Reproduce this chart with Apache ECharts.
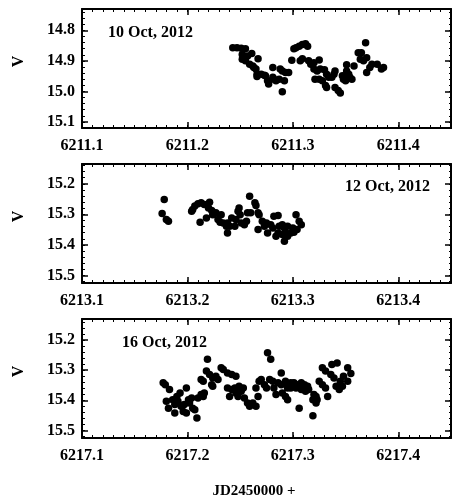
<!DOCTYPE html>
<html><head><meta charset="utf-8">
<script src="https://cdn.jsdelivr.net/npm/echarts@6/dist/echarts.min.js"></script>
<style>html,body{margin:0;padding:0;background:#fff}#c{width:454px;height:498px}</style>
</head><body><div id="c"></div><script>
// ---- data: [JD - 2450000, V magnitude] ----
const p1 = [[6211.243,14.857],[6211.247,14.857],[6211.251,14.859],[6211.255,14.860],[6211.252,14.879],[6211.257,14.884],[6211.261,14.876],[6211.252,14.895],[6211.255,14.900],[6211.259,14.911],[6211.262,14.917],[6211.263,14.922],[6211.265,14.927],[6211.267,14.893],[6211.266,14.944],[6211.266,14.951],[6211.270,14.944],[6211.273,14.947],[6211.274,14.949],[6211.276,14.965],[6211.277,14.976],[6211.281,14.922],[6211.281,14.954],[6211.282,14.960],[6211.284,14.965],[6211.287,14.960],[6211.288,14.927],[6211.290,14.933],[6211.292,14.965],[6211.290,15.001],[6211.293,14.938],[6211.296,14.938],[6211.299,14.898],[6211.301,14.860],[6211.303,14.857],[6211.306,14.852],[6211.309,14.846],[6211.312,14.844],[6211.314,14.852],[6211.307,14.900],[6211.309,14.893],[6211.315,14.900],[6211.317,14.911],[6211.320,14.906],[6211.325,14.897],[6211.320,14.927],[6211.323,14.933],[6211.326,14.927],[6211.321,14.960],[6211.325,14.960],[6211.328,14.965],[6211.330,14.929],[6211.332,14.944],[6211.334,14.954],[6211.331,14.981],[6211.332,14.987],[6211.337,14.954],[6211.339,14.944],[6211.340,14.933],[6211.340,14.987],[6211.343,14.997],[6211.345,15.005],[6211.347,14.949],[6211.348,14.960],[6211.350,14.965],[6211.351,14.933],[6211.353,14.944],[6211.354,14.954],[6211.356,14.960],[6211.351,14.913],[6211.358,14.917],[6211.362,14.873],[6211.365,14.873],[6211.369,14.841],[6211.364,14.895],[6211.367,14.900],[6211.370,14.890],[6211.370,14.938],[6211.373,14.922],[6211.375,14.911],[6211.380,14.911],[6211.384,14.927],[6211.386,14.922]];
const p2 = [[6213.178,15.251],[6213.176,15.297],[6213.180,15.317],[6213.182,15.323],[6213.204,15.290],[6213.205,15.284],[6213.207,15.273],[6213.210,15.265],[6213.213,15.262],[6213.216,15.268],[6213.221,15.260],[6213.220,15.279],[6213.223,15.287],[6213.224,15.301],[6213.227,15.295],[6213.232,15.301],[6213.229,15.317],[6213.231,15.326],[6213.234,15.328],[6213.237,15.339],[6213.238,15.361],[6213.212,15.326],[6213.218,15.312],[6213.238,15.328],[6213.240,15.339],[6213.242,15.312],[6213.245,15.339],[6213.246,15.317],[6213.248,15.290],[6213.249,15.279],[6213.250,15.301],[6213.251,15.328],[6213.254,15.334],[6213.256,15.323],[6213.257,15.295],[6213.259,15.241],[6213.260,15.295],[6213.264,15.262],[6213.265,15.271],[6213.267,15.295],[6213.268,15.301],[6213.267,15.350],[6213.271,15.323],[6213.275,15.328],[6213.273,15.339],[6213.276,15.361],[6213.279,15.334],[6213.281,15.345],[6213.282,15.306],[6213.286,15.304],[6213.284,15.372],[6213.286,15.361],[6213.287,15.339],[6213.290,15.334],[6213.290,15.366],[6213.292,15.345],[6213.292,15.388],[6213.293,15.361],[6213.295,15.339],[6213.295,15.372],[6213.298,15.361],[6213.300,15.345],[6213.301,15.359],[6213.303,15.301],[6213.304,15.350],[6213.306,15.323],[6213.308,15.334]];
const p3 = [[6217.177,15.342],[6217.179,15.348],[6217.183,15.364],[6217.199,15.359],[6217.193,15.376],[6217.190,15.387],[6217.186,15.398],[6217.191,15.403],[6217.188,15.414],[6217.180,15.403],[6217.182,15.426],[6217.194,15.420],[6217.197,15.414],[6217.201,15.398],[6217.204,15.392],[6217.202,15.409],[6217.205,15.426],[6217.196,15.437],[6217.188,15.442],[6217.199,15.442],[6217.207,15.431],[6217.209,15.459],[6217.213,15.381],[6217.216,15.376],[6217.215,15.387],[6217.210,15.392],[6217.213,15.331],[6217.215,15.337],[6217.218,15.303],[6217.221,15.314],[6217.224,15.326],[6217.219,15.264],[6217.232,15.292],[6217.234,15.298],[6217.238,15.309],[6217.242,15.314],[6217.246,15.320],[6217.227,15.320],[6217.229,15.331],[6217.223,15.348],[6217.224,15.353],[6217.238,15.359],[6217.242,15.364],[6217.245,15.359],[6217.249,15.353],[6217.253,15.359],[6217.251,15.370],[6217.246,15.376],[6217.240,15.387],[6217.248,15.387],[6217.254,15.392],[6217.257,15.409],[6217.259,15.420],[6217.262,15.409],[6217.265,15.420],[6217.267,15.387],[6217.265,15.359],[6217.276,15.242],[6217.279,15.264],[6217.289,15.309],[6217.270,15.331],[6217.268,15.337],[6217.273,15.348],[6217.275,15.359],[6217.278,15.331],[6217.281,15.337],[6217.282,15.359],[6217.284,15.381],[6217.286,15.342],[6217.289,15.348],[6217.293,15.337],[6217.295,15.348],[6217.298,15.342],[6217.301,15.342],[6217.304,15.348],[6217.308,15.342],[6217.311,15.348],[6217.314,15.353],[6217.315,15.364],[6217.312,15.370],[6217.308,15.364],[6217.303,15.359],[6217.298,15.359],[6217.295,15.359],[6217.290,15.376],[6217.293,15.387],[6217.295,15.398],[6217.306,15.426],[6217.320,15.381],[6217.322,15.387],[6217.323,15.398],[6217.319,15.398],[6217.322,15.409],[6217.319,15.451],[6217.328,15.292],[6217.331,15.303],[6217.337,15.281],[6217.342,15.276],[6217.352,15.292],[6217.355,15.311],[6217.348,15.320],[6217.345,15.337],[6217.339,15.326],[6217.336,15.314],[6217.325,15.337],[6217.328,15.348],[6217.331,15.359],[6217.341,15.353],[6217.344,15.364],[6217.347,15.353],[6217.333,15.387],[6217.352,15.337]];
const panelData = [p1, p2, p3];
const dateLabels = ['10 Oct, 2012', '12 Oct, 2012', '16 Oct, 2012'];
const xRanges = [[6211.1, 6211.45], [6213.1, 6213.45], [6217.1, 6217.45]];
const yRanges = [[14.73, 15.12], [15.135, 15.525], [15.13, 15.525]];
const yName = 'V';
const xName = 'JD2450000 +';

// ---- layout / style ----
const FONT = '"Liberation Serif", "Times New Roman", serif';
const GL = 82, GW = 370, GH = 119;
const tops = [9, 164, 319];
const labelPos = [[108, 33], [345, 187], [122, 343]];
const BLACK = '#000';
const majorTick = {show: true, inside: true, length: 6, lineStyle: {color: BLACK, width: 1.5}};
const minorTick = {show: true, inside: true, length: 3, lineStyle: {color: BLACK, width: 1}};
const lineStyle = {show: true, onZero: false, lineStyle: {color: BLACK, width: 2}};
const tickFmt = v => (Math.abs(v * 10 - Math.round(v * 10)) > 1e-6 ? '' : v.toFixed(1));
const labelStyle = {color: BLACK, fontFamily: FONT, fontWeight: 'bold', fontSize: 16, formatter: tickFmt};

const grids = [], xAxes = [], yAxes = [], series = [], graphics = [];
panelData.forEach((pts, i) => {
  const top = tops[i];
  const [xMin, xMax] = xRanges[i];
  const [yMin, yMax] = yRanges[i];
  grids.push({left: GL, top: top, width: GW, height: GH});
  const gi = grids.length - 1;
  const bx = {gridIndex: gi, type: 'value', min: xMin, max: xMax, splitLine: {show: false}};
  xAxes.push(Object.assign({}, bx, {position: 'bottom', interval: 0.1, axisLine: lineStyle, axisTick: majorTick,
    axisLabel: Object.assign({margin: 10}, labelStyle)}));
  const xi = xAxes.length - 1;
  xAxes.push(Object.assign({}, bx, {position: 'top', interval: 0.1, axisLine: lineStyle, axisTick: majorTick, axisLabel: {show: false}}));
  xAxes.push(Object.assign({}, bx, {position: 'bottom', interval: 0.01, axisLine: {show: false, onZero: false}, axisTick: minorTick, axisLabel: {show: false}}));
  xAxes.push(Object.assign({}, bx, {position: 'top', interval: 0.01, axisLine: {show: false, onZero: false}, axisTick: minorTick, axisLabel: {show: false}}));

  const by = {gridIndex: gi, type: 'value', inverse: true, min: yMin, max: yMax, splitNumber: 4, splitLine: {show: false}};
  yAxes.push(Object.assign({}, by, {position: 'left', axisLine: lineStyle, axisTick: majorTick,
    axisLabel: Object.assign({margin: 7}, labelStyle),
    name: yName, nameLocation: 'middle', nameRotate: 90, nameGap: 55,
    nameTextStyle: {color: BLACK, fontFamily: FONT, fontWeight: 'bold', fontSize: 16, padding: [0, 0, 0, 14]}}));
  const yi = yAxes.length - 1;
  yAxes.push(Object.assign({}, by, {position: 'right', axisLine: lineStyle, axisTick: majorTick, axisLabel: {show: false}}));

  // minor y ticks every 0.02 on a sub-grid aligned to the same scale
  const step = 0.02;
  const m0 = +(Math.ceil(yMin / step - 1e-9) * step).toFixed(2);
  const m1 = +(Math.floor(yMax / step + 1e-9) * step).toFixed(2);
  const sc = GH / (yMax - yMin);
  grids.push({left: GL, width: GW, top: top + (m0 - yMin) * sc, height: (m1 - m0) * sc});
  const g2 = grids.length - 1;
  xAxes.push({gridIndex: g2, type: 'value', show: false, min: 0, max: 1});
  const bm = {gridIndex: g2, type: 'value', inverse: true, min: m0, max: m1, interval: step,
    axisLine: {show: false, onZero: false}, axisTick: minorTick, axisLabel: {show: false}, splitLine: {show: false}};
  yAxes.push(Object.assign({}, bm, {position: 'left'}));
  yAxes.push(Object.assign({}, bm, {position: 'right'}));

  series.push({type: 'scatter', xAxisIndex: xi, yAxisIndex: yi, data: pts, symbol: 'circle', symbolSize: 7.5,
    itemStyle: {color: BLACK, opacity: 1}, silent: true, clip: true});

  graphics.push({type: 'text', x: labelPos[i][0], y: labelPos[i][1],
    style: {text: dateLabels[i], fill: BLACK, font: 'bold 16px ' + FONT, textAlign: 'left', textVerticalAlign: 'middle'}});
});
graphics.push({type: 'text', x: 254, y: 491,
  style: {text: xName, fill: BLACK, font: 'bold 15px ' + FONT, textAlign: 'center', textVerticalAlign: 'middle'}});

const chart = echarts.init(document.getElementById('c'), null, {renderer: 'canvas'});
chart.setOption({
  animation: false,
  backgroundColor: '#fff',
  grid: grids, xAxis: xAxes, yAxis: yAxes, series: series, graphic: graphics
});
</script></body></html>
